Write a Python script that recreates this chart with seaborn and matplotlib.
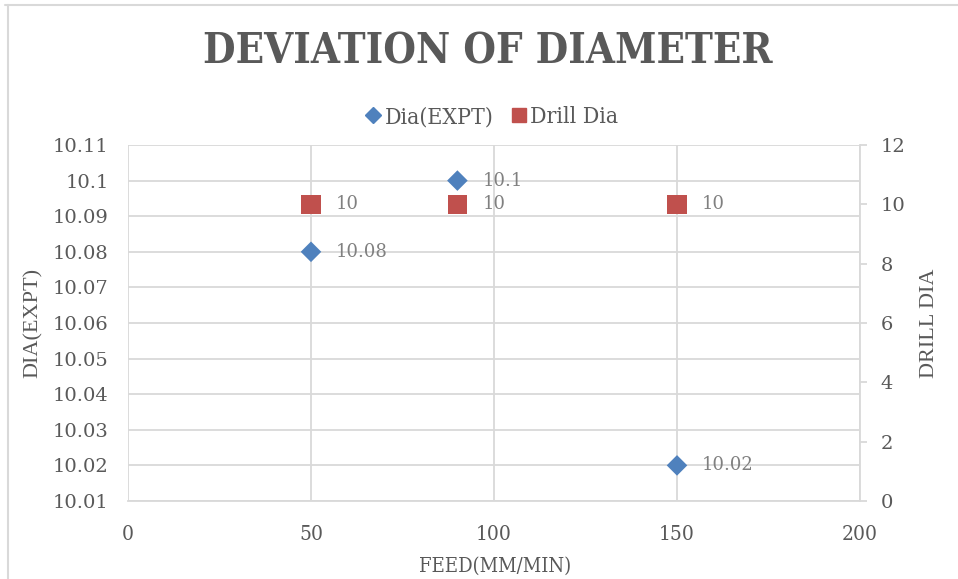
import matplotlib
matplotlib.use("Agg")
import matplotlib.pyplot as plt
from matplotlib.lines import Line2D
import seaborn as sns
import pandas as pd

# Feed rates and measured / nominal diameters
feed = [50, 90, 150]
dia_expt = [10.08, 10.10, 10.02]
drill_dia = [10, 10, 10]

x_ticks = [0, 50, 100, 150, 200]
left_ticks = [10.01, 10.02, 10.03, 10.04, 10.05, 10.06, 10.07, 10.08, 10.09, 10.1, 10.11]
left_tick_labels = ["10.01", "10.02", "10.03", "10.04", "10.05", "10.06",
                    "10.07", "10.08", "10.09", "10.1", "10.11"]
right_ticks = [0, 2, 4, 6, 8, 10, 12]

sns.set_theme(style="white")
plt.rcParams["font.family"] = ["DejaVu Serif"]

TXT = "#595959"
GRID = "#d9d9d9"
BLUE = "#4f81bd"
RED = "#c0504d"
LBL = "#808080"
COND = dict(family="DejaVu Serif", fontstretch="condensed")

df1 = pd.DataFrame({"feed": feed, "dia": dia_expt})
df2 = pd.DataFrame({"feed": feed, "dia": drill_dia})

fig = plt.figure(figsize=(9.58, 5.79), dpi=100)
ax = fig.add_axes([128 / 958, 1 - 501 / 579, (860 - 128) / 958, (501 - 145) / 579])
ax2 = ax.twinx()

sns.scatterplot(data=df1, x="feed", y="dia", ax=ax, marker="D", s=110,
                color=BLUE, edgecolor="none", zorder=4, legend=False)
sns.scatterplot(data=df2, x="feed", y="dia", ax=ax2, marker="s", s=190,
                color=RED, edgecolor="none", zorder=4, legend=False)

ax.set_xlim(0, 200)
ax.set_ylim(10.01, 10.11)
ax2.set_ylim(0, 12)
ax.set_xticks(x_ticks)
ax.set_yticks(left_ticks)
ax.set_yticklabels(left_tick_labels)
ax2.set_yticks(right_ticks)

ax.grid(True, color=GRID, linewidth=1.3)
ax.set_axisbelow(True)
for a in (ax, ax2):
    for s in a.spines.values():
        s.set_visible(False)
ax.spines["bottom"].set_visible(True)
ax.spines["bottom"].set_color(GRID)
ax.spines["bottom"].set_linewidth(1.3)
ax2.spines["right"].set_visible(True)
ax2.spines["right"].set_color(GRID)
ax2.spines["right"].set_linewidth(1.3)

ax.tick_params(axis="y", length=0, pad=14, labelsize=14, labelcolor=TXT)
ax.tick_params(axis="x", length=0, pad=17, labelcolor=TXT)
for t in ax.get_xticklabels():
    t.set_fontsize(15)
    t.set_family("DejaVu Serif")
    t.set_fontstretch("condensed")
ax2.tick_params(axis="y", length=5, width=1.3, color=GRID, direction="out",
                pad=10, labelsize=14, labelcolor=TXT)

ax.set_xlabel("")
ax.set_ylabel("")
ax2.set_ylabel("")

for x, y in zip(feed, dia_expt):
    ax.annotate(f"{y:g}", (x, y), xytext=(18, 0), textcoords="offset points",
                va="center", ha="left", fontsize=13, color=LBL, zorder=5)
for x, y in zip(feed, drill_dia):
    ax2.annotate(f"{y:g}", (x, y), xytext=(18, 0), textcoords="offset points",
                 va="center", ha="left", fontsize=13, color=LBL, zorder=5)

fig.text(488 / 958, 1 - 52 / 579, "DEVIATION OF DIAMETER", ha="center", va="center",
         fontsize=30, fontweight="bold", color=TXT, **COND)
fig.text(33 / 958, 1 - 323 / 579, "DIA(EXPT)", rotation=90, ha="center", va="center",
         fontsize=16, color=TXT, family="Liberation Serif")
fig.text(930 / 958, 1 - 323 / 579, "DRILL DIA", rotation=90, ha="center", va="center",
         fontsize=16, color=TXT, family="Liberation Serif")
fig.text(495 / 958, 1 - 566 / 579, "FEED(MM/MIN)", ha="center", va="center",
         fontsize=14.5, color=TXT, **COND)

handles = [
    Line2D([], [], marker="D", linestyle="none", color=BLUE, markersize=8),
    Line2D([], [], marker="s", linestyle="none", color=RED, markersize=10),
]
fig.legend(handles, ["Dia(EXPT)", "Drill Dia"], loc="center",
           bbox_to_anchor=(489 / 958, 1 - 117 / 579), ncol=2, frameon=False,
           handletextpad=-0.1, columnspacing=0.5, handlelength=1.2,
           prop=dict(family="DejaVu Serif", stretch="condensed", size=16.5),
           labelcolor=TXT)

# light outer frame on the top and left edges
fig.add_artist(Line2D([5 / 958, 1], [1 - 5 / 579, 1 - 5 / 579], color=GRID,
                      linewidth=1.5, transform=fig.transFigure))
fig.add_artist(Line2D([8 / 958, 8 / 958], [0, 1 - 5 / 579], color=GRID,
                      linewidth=1.5, transform=fig.transFigure))

fig.savefig("out.png", dpi=100)
